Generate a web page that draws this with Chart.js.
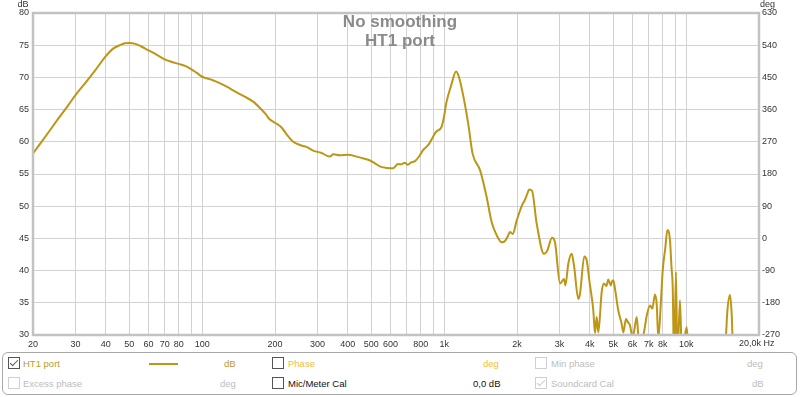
<!DOCTYPE html>
<html>
<head>
<meta charset="utf-8">
<script src="https://cdn.jsdelivr.net/npm/chart.js@4.4.1/dist/chart.umd.min.js"></script>
<style>
  body { margin: 0; background: #fff; font-family: "Liberation Sans", Arial, sans-serif; }
  #wrap { position: relative; width: 800px; height: 397px; overflow: hidden; }
  #chart { position: absolute; left: 0; top: 0; }
  #legend { position: absolute; left: 2px; top: 352px; width: 793px; height: 41px;
            border: 1px solid #a8a8a8; border-radius: 6px; font-size: 9.5px; }
  .it { position: absolute; white-space: nowrap; line-height: 13px; }
  .box { position: absolute; width: 10px; height: 10px; border: 1px solid #555; background: #fff; }
  .box.dis { border-color: #d0d0d0; }
  .box.on::after { content: ''; position: absolute; left: 3px; top: 0; width: 3px; height: 7px;
                   border-right: 1.5px solid #555; border-bottom: 1.5px solid #555; transform: rotate(45deg); }
  .box.dis.on::after { border-color: #c8c8c8; }
  .gold { color: #c09a2a; }
  .phase { color: #f5bd3c; }
  .grey { color: #bdbdbd; }
  .blk { color: #111; }
</style>
</head>
<body>
<div id="wrap">
  <canvas id="chart" width="800" height="350"></canvas>
  <div id="legend">
    <span class="box on" style="left:5px;top:4px"></span>
    <span class="it gold" style="left:20px;top:4px">HT1 port</span>
    <span style="position:absolute;left:146px;top:10px;width:29px;height:2px;background:#bd9615"></span>
    <span class="it gold" style="left:221px;top:4px">dB</span>
    <span class="box" style="left:269px;top:4px"></span>
    <span class="it phase" style="left:285px;top:4px">Phase</span>
    <span class="it phase" style="left:480px;top:4px">deg</span>
    <span class="box dis" style="left:532px;top:4px"></span>
    <span class="it grey" style="left:548px;top:4px">Min phase</span>
    <span class="it grey" style="left:744px;top:4px">deg</span>

    <span class="box dis" style="left:5px;top:24px"></span>
    <span class="it grey" style="left:20px;top:24px">Excess phase</span>
    <span class="it grey" style="left:217px;top:24px">deg</span>
    <span class="box" style="left:269px;top:24px"></span>
    <span class="it blk" style="left:285px;top:24px">Mic/Meter Cal</span>
    <span class="it blk" style="left:470px;top:24px">0,0 dB</span>
    <span class="box dis on" style="left:532px;top:24px"></span>
    <span class="it grey" style="left:548px;top:24px">Soundcard Cal</span>
    <span class="it grey" style="left:749px;top:24px">dB</span>
  </div>
</div>
<script>
const freqHz = [
  20, 22, 25, 28, 30, 33, 36, 40, 43, 46,
  48, 50, 53, 56, 60, 65, 70, 75, 80, 85,
  90, 95, 100, 110, 120, 130, 140, 150, 163, 175,
  183, 190, 197, 205, 212, 225, 238, 254, 270, 289,
  310, 337, 348, 370, 400, 435, 465, 494, 520, 549,
  580, 616, 644, 665, 687, 708, 730, 758, 790, 818,
  845, 870, 900, 928, 975, 1000, 1020, 1070, 1120, 1150,
  1200, 1260, 1310, 1407, 1499, 1572, 1648, 1730, 1784, 1830,
  1871, 1920, 1995, 2112, 2138, 2200, 2248, 2307, 2412, 2586,
  2668, 2790, 2871, 3012, 3128, 3168, 3260, 3366, 3440, 3584,
  3642, 3794, 3882, 3980, 4134, 4200, 4270, 4336, 4478, 4576,
  4680, 4768, 4878, 4940, 5000, 5080, 5244, 5416, 5500, 5640,
  5740, 5860, 6012, 6120, 6248, 6350, 6500, 6700, 6872, 7090,
  7248, 7434, 7556, 7674, 7850, 8000, 8200, 8360, 8574, 8700,
  8800, 8912, 9080, 9192, 9432, 9612, 9800, 10050, 10250, 11500,
  13500, 14610, 14792, 15174, 15420, 15650, 17500, 20000
];
const splDb = [
  58.2, 60.3, 63.2, 65.7, 67.3, 69.2, 71.0, 73.3, 74.5, 75.05,
  75.3, 75.35, 75.2, 74.8, 74.2, 73.5, 72.8, 72.4, 72.1, 71.8,
  71.3, 70.7, 70.1, 69.6, 69.0, 68.3, 67.6, 67.0, 66.2, 65.1,
  64.3, 63.5, 63.1, 62.7, 62.3, 61.0, 60.0, 59.5, 59.2, 58.6,
  58.3, 57.7, 58.05, 57.9, 58.0, 57.7, 57.4, 57.1, 56.6, 56.1,
  55.95, 55.9, 56.55, 56.5, 56.75, 56.45, 56.8, 57.0, 57.8, 58.7,
  59.2, 59.8, 60.8, 61.6, 62.3, 64.0, 66.0, 68.8, 70.9, 70.1,
  67.1, 62.6, 58.2, 55.6, 51.4, 47.5, 45.5, 44.4, 44.6, 45.3,
  46.0, 45.7, 47.8, 50.4, 50.7, 51.8, 52.6, 52.4, 47.3, 42.6,
  43.1, 45.1, 44.4, 38.0, 38.7, 37.7, 41.1, 42.6, 40.8, 35.6,
  36.4, 42.2, 41.6, 38.5, 33.8, 30.3, 32.8, 30.4, 36.7, 38.0,
  37.6, 38.6, 37.7, 38.3, 38.5, 37.2, 33.8, 31.7, 30.4, 32.5,
  32.0, 31.5, 29.6, 31.0, 32.8, 29.8, 29.0, 30.5, 33.0, 34.6,
  34.1, 36.3, 34.8, 29.5, 34.6, 40.0, 43.5, 46.3, 44.7, 40.5,
  37.4, 26, 39.8, 26, 35.4, 26, 29.0, 31.2, 27, 22,
  22, 30, 33.6, 36.2, 33.3, 27, 22, 20
];

// axis grid / labels
const gridHz = [20, 30, 40, 50, 60, 70, 80, 90, 100, 200, 300, 400, 500, 600, 700, 800, 900,
                1000, 2000, 3000, 4000, 5000, 6000, 7000, 8000, 9000, 10000, 20000];
const gridLabels = ['20', '30', '40', '50', '60', '70', '80', '', '100', '200', '300', '400', '500', '600', '', '800', '',
                    '1k', '2k', '3k', '4k', '5k', '6k', '7k', '8k', '', '10k', ''];
const titleLines = ['No smoothing', 'HT1 port'];
const lastTickLabel = '20,0k Hz';

const FONT = '"Liberation Sans", Arial, sans-serif';
Chart.defaults.font.family = FONT;
Chart.defaults.font.size = 9;
Chart.defaults.color = '#333';

// frame, title and unit captions
const overlay = {
    id: 'overlay',
    afterDraw(chart) {
        const { ctx, chartArea: a, scales } = chart;
        ctx.save();
        ctx.strokeStyle = '#c2c2c2';
        ctx.lineWidth = 2.5;
        ctx.strokeRect(a.left, a.top, a.right - a.left, a.bottom - a.top);

        ctx.fillStyle = '#8a8a8a';
        ctx.font = 'bold 17px ' + FONT;
        ctx.textAlign = 'center';
        ctx.fillText(titleLines[0], 400, 27);
        ctx.fillText(titleLines[1], 400, 46);

        ctx.fillStyle = '#333';
        ctx.font = '9px ' + FONT;
        ctx.textBaseline = 'middle';
        ctx.fillText('dB', 23, 5);
        ctx.textAlign = 'left';
        ctx.fillText('deg', 760, 5);
        ctx.fillText(lastTickLabel, scales.x.getPixelForValue(20000) - 20, 344);
        ctx.restore();
    }
};

new Chart(document.getElementById('chart'), {
    type: 'line',
    data: {
        datasets: [{
            label: 'HT1 port',
            data: freqHz.map((f, i) => ({ x: f, y: splDb[i] })),
            borderColor: '#bd9615',
            borderWidth: 2,
            pointRadius: 0,
            cubicInterpolationMode: 'monotone',
            clip: 0,
            yAxisID: 'y'
        }]
    },
    options: {
        responsive: false,
        animation: false,
        layout: { padding: { top: 13, left: 0, right: 0, bottom: 0 } },
        plugins: { legend: { display: false }, tooltip: { enabled: false } },
        scales: {
            x: {
                type: 'logarithmic',
                min: 20,
                max: 20000,
                afterBuildTicks: s => { s.ticks = gridHz.map(v => ({ value: v })); },
                afterFit: s => { s.height = 15; },
                ticks: { autoSkip: false, maxRotation: 0, padding: 4, callback: (v, i) => gridLabels[i] },
                grid: { color: '#d2d2d2', drawTicks: false },
                border: { display: false }
            },
            y: {
                position: 'left',
                min: 30,
                max: 80,
                afterFit: s => { s.width = 33; },
                ticks: { stepSize: 5, padding: 4 },
                grid: { color: '#d2d2d2', drawTicks: false },
                border: { display: false }
            },
            y2: {
                position: 'right',
                min: -270,
                max: 630,
                afterFit: s => { s.width = 41; },
                ticks: { stepSize: 90, padding: 3 },
                grid: { display: false, drawTicks: false },
                border: { display: false }
            }
        }
    },
    plugins: [overlay]
});
</script>
</body>
</html>
